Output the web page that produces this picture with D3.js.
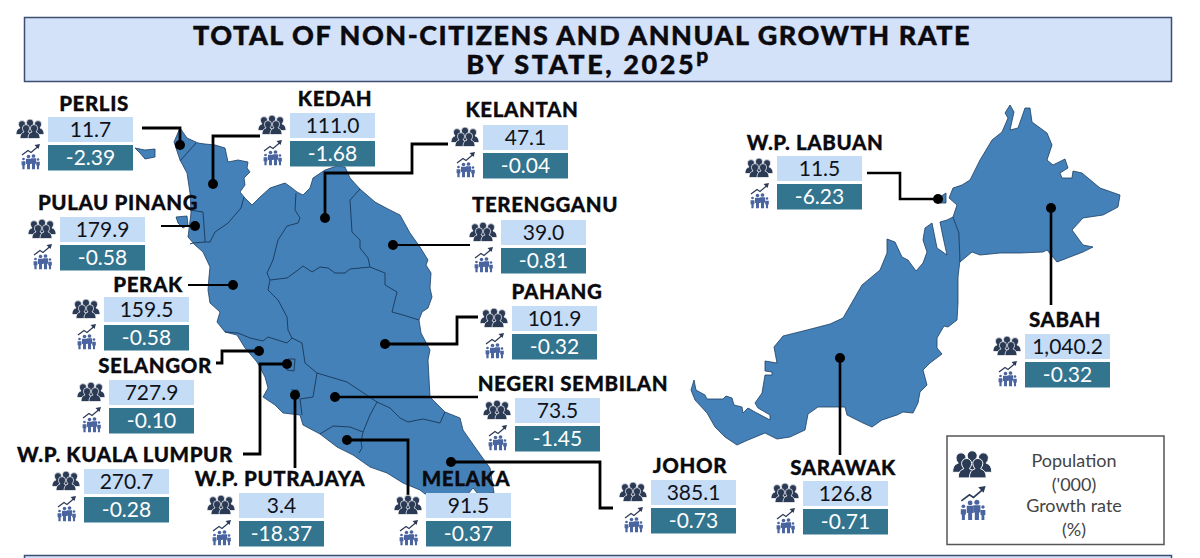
<!DOCTYPE html>
<html>
<head>
<meta charset="utf-8">
<script src="https://cdn.jsdelivr.net/npm/d3@7"></script>
<style>
  html, body { margin: 0; padding: 0; background: #fff; }
  text { font-family: "Lato", "Noto Sans", sans-serif; }
  .name { font-weight: 900; font-size: 20.5px; fill: #0b0b0f; stroke: #0b0b0f; stroke-width: 0.3px; letter-spacing: 0.6px; text-anchor: middle; }
  .value { font-size: 21px; text-anchor: middle; }
  .title { font-weight: 900; font-size: 27px; fill: #0b0b0f; stroke: #0b0b0f; stroke-width: 0.4px; text-anchor: middle; letter-spacing: 1.5px; }
  .legend { font-size: 18px; fill: #444; text-anchor: middle; }
</style>
</head>
<body>
<div id="chart"></div>
<script>
// values
let states = ["PERLIS", "KEDAH", "KELANTAN", "PULAU PINANG", "TERENGGANU", "PERAK", "PAHANG", "SELANGOR",
              "NEGERI SEMBILAN", "W.P. KUALA LUMPUR", "W.P. PUTRAJAYA", "MELAKA", "JOHOR", "SARAWAK", "SABAH", "W.P. LABUAN"];
let population = [11.7, 111.0, 47.1, 179.9, 39.0, 159.5, 101.9, 727.9, 73.5, 270.7, 3.4, 91.5, 385.1, 126.8, 1040.2, 11.5];
let growth = [-2.39, -1.68, -0.04, -0.58, -0.81, -0.58, -0.32, -0.10, -1.45, -0.28, -18.37, -0.37, -0.73, -0.71, -0.32, -6.23];

// panel layout, same order as states
let panelLeft = [48, 290, 483, 60, 501, 104, 512, 109, 515, 84, 239, 426, 651, 803, 1025, 777];
let panelTop = [117, 113, 125, 217, 220, 297, 306, 380, 398, 469, 493, 493, 480, 481, 334, 156];
let nameX = [94, 335, 522, 118, 545, 148, 557, 155, 573, 125, 280, 466, 690, 843, 1065, 815];
let nameY = [111, 106, 117, 210, 212, 292, 299, 373, 391, 462, 486, 486, 473, 475, 327, 150];

// leader lines, same order as states, last point carries the dot
let leaders = [
  [[142, 128], [180, 128], [180, 145]],
  [[260, 136], [213, 136], [213, 184]],
  [[448, 144], [412, 144], [412, 173], [325, 173], [325, 218]],
  [[161, 226], [195, 226]],
  [[470, 245], [393, 245]],
  [[188, 285], [233, 285]],
  [[478, 317], [457, 317], [457, 344], [385, 344]],
  [[216, 363], [222, 363], [222, 351], [259, 351]],
  [[478, 397], [335, 397]],
  [[243, 454], [260, 454], [260, 364], [287, 364]],
  [[295, 468], [295, 395]],
  [[408, 495], [408, 440], [347, 440]],
  [[613, 508], [600, 508], [600, 462], [451, 462]],
  [[840, 455], [840, 358]],
  [[1051, 305], [1051, 208]],
  [[867, 173], [900, 173], [900, 199], [938, 199]]
];
let leaderWidth = [2.8, 2.8, 2.8, 2, 2, 2.2, 2.8, 2.8, 2.6, 2.8, 2.8, 2.8, 2.8, 2.6, 2.6, 2.6];

// map outlines
let peninsula = [[180,128],[187,138],[198,143],[205,144],[215,145],[225,148],[228,162],[238,160],[248,162],[247,168],[250,172],[244,178],[245,185],[240,192],[245,198],[252,205],[260,197],[270,188],[285,183],[292,188],[297,192],[303,195],[310,188],[313,178],[325,170],[337,166],[345,167],[350,178],[360,189],[375,202],[388,209],[400,215],[410,233],[420,247],[428,260],[426,265],[431,273],[430,288],[432,297],[428,308],[422,312],[419,320],[421,333],[430,350],[428,360],[430,397],[445,412],[460,418],[463,430],[477,450],[490,468],[494,493],[478,494],[473,488],[468,494],[425,494],[420,490],[403,483],[387,473],[370,467],[353,455],[337,447],[320,434],[303,425],[300,415],[283,413],[275,405],[263,397],[268,388],[265,377],[257,362],[245,348],[237,335],[225,332],[217,322],[220,312],[210,303],[208,290],[209,277],[210,267],[203,252],[195,245],[188,237],[191,213],[190,193],[187,173],[180,160],[174,142]];
let langkawi = [[135,148],[145,150],[155,149],[155,157],[145,159],[140,153]];
let penang = [[176,217],[187,216],[188,225],[183,228],[178,223]];
let sarawak = [[694,380],[696,390],[705,395],[707,399],[723,399],[726,396],[732,398],[734,405],[742,407],[743,413],[748,408],[755,412],[770,420],[770,415],[758,408],[755,403],[762,393],[765,375],[772,375],[772,372],[765,371],[765,361],[777,363],[774,347],[783,336],[807,330],[830,324],[843,318],[862,285],[880,270],[887,253],[887,239],[895,242],[902,257],[908,260],[916,271],[923,263],[927,252],[923,240],[925,228],[932,223],[937,248],[947,255],[943,237],[940,222],[947,220],[953,217],[959,233],[960,260],[958,277],[958,303],[957,320],[948,327],[944,326],[937,338],[937,348],[942,354],[930,363],[923,370],[927,385],[920,392],[918,403],[913,413],[903,412],[897,415],[882,420],[872,427],[863,423],[847,415],[845,407],[839,407],[818,407],[808,414],[805,430],[790,437],[777,439],[765,433],[748,440],[737,445],[725,437],[715,427],[707,413],[695,400],[691,390]];
let sabah = [[953,217],[957,205],[949,198],[953,188],[962,185],[970,180],[980,160],[992,140],[1002,132],[1008,118],[1005,113],[1010,105],[1014,112],[1010,130],[1018,128],[1025,108],[1030,108],[1032,122],[1047,133],[1052,145],[1047,160],[1053,165],[1065,159],[1068,168],[1060,173],[1062,178],[1072,178],[1073,171],[1082,173],[1100,188],[1120,195],[1118,207],[1103,215],[1083,218],[1072,230],[1083,245],[1093,247],[1083,252],[1057,262],[1047,250],[1043,252],[1020,253],[1000,253],[980,255],[972,252],[960,262],[959,233]];
let labuan = [[940,197],[946,193],[946,203],[940,203]];
let borders = [
  [[196,143],[180,161]],
  [[244,197],[241,208],[228,223],[215,232],[210,242],[205,242]],
  [[190,210],[203,212],[205,240],[205,242],[193,243],[190,244]],
  [[296,193],[295,210],[300,218],[298,223],[287,226],[278,240],[273,260],[267,273],[270,280],[268,290],[278,300],[287,317],[288,330],[292,338]],
  [[270,280],[287,278],[298,270],[303,266],[312,272],[320,267],[328,268],[335,273],[345,273],[350,269],[370,267]],
  [[360,189],[350,200],[352,232],[360,240],[360,248],[368,258],[370,267]],
  [[370,267],[385,273],[385,285],[397,292],[392,312],[403,315],[419,320]],
  [[292,338],[287,343],[268,337],[263,341],[250,338],[238,333],[225,332]],
  [[292,338],[302,343],[305,363],[317,373]],
  [[317,373],[313,397],[300,399],[302,415]],
  [[317,373],[347,382],[377,402]],
  [[377,402],[370,415],[363,432],[361,442],[362,448],[359,453]],
  [[320,434],[333,426],[350,427],[363,432]],
  [[377,402],[390,408],[400,418],[408,422],[423,419],[440,423],[445,412]],
  [[288,359],[295,359],[294,371],[287,370],[283,363],[288,359]],
  [[291,390],[298,390],[299,397]]
];

let legendLabels = ["Population", "('000)", "Growth rate", "(%)"];

let w = 1200, h = 558;

let svg = d3.select("#chart").append("svg")
  .attr("width", w)
  .attr("height", h)
  .style("display", "block");

function ring(points) {
  return { type: "Polygon", coordinates: [points.concat([points[0]])] };
}

// five people, three behind and two in front
function drawPeople(g, x, y, k) {
  let person = [[5, 0.5], [13, -1], [21, 0.5], [9, 4.5], [17, 4.5]];
  let icon = g.append("g").attr("transform", `translate(${x},${y}) scale(${k})`).attr("fill", "#2b3a55");
  person.forEach(p => {
    icon.append("path")
      .attr("d", `M${p[0] - 6},${p[1] + 14}q0,-5.5 4,-6.5q-1.6,-2 -1.6,-3.8a3.6,3.6 0 0 1 7.2,0q0,1.8 -1.6,3.8q4,1 4,6.5z`)
      .attr("stroke", "#fff").attr("stroke-width", 0.7);
  });
}

// family of four under a rising arrow
function drawGrowth(g, x, y, k) {
  let icon = g.append("g").attr("transform", `translate(${x},${y}) scale(${k})`);
  icon.append("path").attr("d", "M1,11L7,6.5L10,8.5L17,2.5").attr("fill", "none").attr("stroke", "#2b3a55").attr("stroke-width", 1.2);
  icon.append("path").attr("d", "M19,0L13.5,1L17.5,5z").attr("fill", "#2b3a55");
  [[2.5, 15, 0.8], [7.5, 12.5, 1.05], [12.5, 12, 1.1], [17, 15.5, 0.75]].forEach(p => {
    icon.append("circle").attr("cx", p[0]).attr("cy", p[1]).attr("r", 1.7 * p[2]).attr("fill", "#4a64a0");
    icon.append("path")
      .attr("d", `M${p[0] - 2.4 * p[2]},${p[1] + 2.2}h${4.8 * p[2]}v${5 * p[2]}h${-1 * p[2]}v${5 * p[2]}h${-2.8 * p[2]}v${-5 * p[2]}h${-1 * p[2]}z`)
      .attr("fill", "#4a64a0");
  });
}

// title banner
svg.append("rect").attr("x", 24.5).attr("y", 17.5).attr("width", 1147).attr("height", 64)
  .attr("fill", "#d3e1f9").attr("stroke", "#3c4f70").attr("stroke-width", 1.5);
svg.append("text").attr("class", "title").attr("x", 582).attr("y", 45).text("TOTAL OF NON-CITIZENS AND ANNUAL GROWTH RATE");
let sub = svg.append("text").attr("class", "title").attr("x", 588).attr("y", 74);
sub.append("tspan").style("letter-spacing", "2.6px").text("BY STATE, 2025");
sub.append("tspan").attr("dy", -11).attr("font-size", 21).text("p");

// bottom banner, only its top edge is in frame
svg.append("rect").attr("x", 24.5).attr("y", 555.5).attr("width", 1147).attr("height", 20)
  .attr("fill", "#d3e1f9").attr("stroke", "#3c4f70").attr("stroke-width", 1.5);

// map
let geo = d3.geoPath(d3.geoIdentity());
let map = svg.append("g");
map.selectAll("path.land")
  .data([peninsula, langkawi, penang, sarawak, sabah, labuan].map(ring))
  .enter()
  .append("path")
  .attr("class", "land")
  .attr("d", geo)
  .attr("fill", "#4481b9")
  .attr("stroke", "#1d3f63")
  .attr("stroke-width", 0.8)
  .attr("stroke-linejoin", "round");
map.append("path")
  .datum({ type: "MultiLineString", coordinates: borders })
  .attr("d", geo)
  .attr("fill", "none")
  .attr("stroke", "#1d3f63")
  .attr("stroke-width", 1);

// leader lines and dots
let line = d3.line();
svg.append("g").selectAll("path")
  .data(leaders)
  .enter()
  .append("path")
  .attr("d", line)
  .attr("fill", "none")
  .attr("stroke", "#000")
  .attr("stroke-width", (d, i) => leaderWidth[i]);
svg.append("g").selectAll("circle")
  .data(leaders)
  .enter()
  .append("circle")
  .attr("cx", d => d[d.length - 1][0])
  .attr("cy", d => d[d.length - 1][1])
  .attr("r", 5)
  .attr("fill", "#000");

// one panel per state
let fmtPop = d3.format(",.1f");
let panels = svg.append("g").selectAll("g")
  .data(states)
  .enter()
  .append("g");

panels.append("rect")
  .attr("x", (d, i) => panelLeft[i]).attr("y", (d, i) => panelTop[i])
  .attr("width", 85).attr("height", 25).attr("fill", "#c5dcf7");
panels.append("rect")
  .attr("x", (d, i) => panelLeft[i]).attr("y", (d, i) => panelTop[i] + 28)
  .attr("width", 85).attr("height", 25.5).attr("fill", "#33748f");
panels.append("text").attr("class", "name")
  .attr("x", (d, i) => nameX[i]).attr("y", (d, i) => nameY[i]).text(d => d);
panels.append("text").attr("class", "value").attr("fill", "#10121a")
  .attr("x", (d, i) => panelLeft[i] + 42.5).attr("y", (d, i) => panelTop[i] + 20)
  .text((d, i) => fmtPop(population[i]));
panels.append("text").attr("class", "value").attr("fill", "#fff")
  .attr("x", (d, i) => panelLeft[i] + 42.5).attr("y", (d, i) => panelTop[i] + 48)
  .text((d, i) => growth[i].toFixed(2));
panels.each(function (d, i) {
  drawPeople(d3.select(this), panelLeft[i] - 31, panelTop[i] + 3, 1);
  drawGrowth(d3.select(this), panelLeft[i] - 27, panelTop[i] + 27, 1);
});

// legend
svg.append("rect").attr("x", 947).attr("y", 436).attr("width", 217).attr("height", 108.5)
  .attr("fill", "#fff").attr("stroke", "#555").attr("stroke-width", 1.5);
drawPeople(svg, 954, 452, 1.4);
drawGrowth(svg, 960, 486, 1.35);
svg.append("g").selectAll("text")
  .data(legendLabels)
  .enter()
  .append("text")
  .attr("class", "legend")
  .attr("x", 1074)
  .attr("y", (d, i) => [467, 491, 512, 536][i])
  .text(d => d);
</script>
</body>
</html>
